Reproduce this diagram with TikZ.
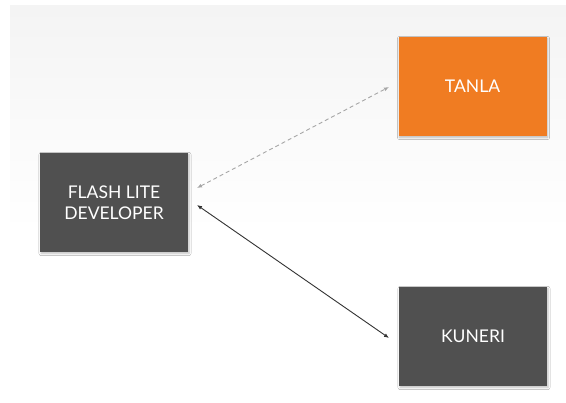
\documentclass[tikz,border=0pt]{standalone}
\usepackage{fontspec}
\setmainfont{Lato}
\usetikzlibrary{arrows.meta,shadows.blur}
\definecolor{boxgray}{HTML}{505050}
\definecolor{tanlaor}{HTML}{F07C22}
\definecolor{bgtop}{HTML}{F4F4F4}
\tikzset{
  card/.style={draw=none, minimum width=148pt, minimum height=99pt, text=white, font=\fontsize{17.5}{21}\selectfont, align=center, inner sep=0pt,
    blur shadow={shadow xshift=1pt, shadow yshift=-1.5pt, shadow blur steps=5, shadow opacity=25}},
  dashlink/.style={draw=gray!70, dashed, dash pattern=on 4pt off 3pt, line width=0.9pt, {Latex[length=5pt,width=4pt]}-{Latex[length=5pt,width=4pt]}},
  solidlink/.style={draw=black!80, line width=0.9pt, {Latex[length=5pt,width=4pt]}-{Latex[length=5pt,width=4pt]}}
}
\begin{document}
\begin{tikzpicture}[x=1pt,y=-1pt]
\useasboundingbox (0,0) rectangle (566,403);
\fill[white] (0,0) rectangle (566,403);
\shade[top color=bgtop, bottom color=white, middle color=bgtop!50] (10,6) rectangle (566,232);
\node[card, fill=boxgray] (fl) at (114,202.5) {FLASH LITE\\DEVELOPER};
\node[card, fill=tanlaor] (tanla) at (472.5,86.5) {TANLA};
\node[card, fill=boxgray] (kuneri) at (473,336.5) {KUNERI};
\coordinate (d1) at (197,188);
\coordinate (d2) at (389,87);
\coordinate (s1) at (197,205);
\coordinate (s2) at (389,338);
\draw[dashlink] (d1) -- (d2);
\draw[solidlink] (s1) -- (s2);
\end{tikzpicture}
\end{document}
